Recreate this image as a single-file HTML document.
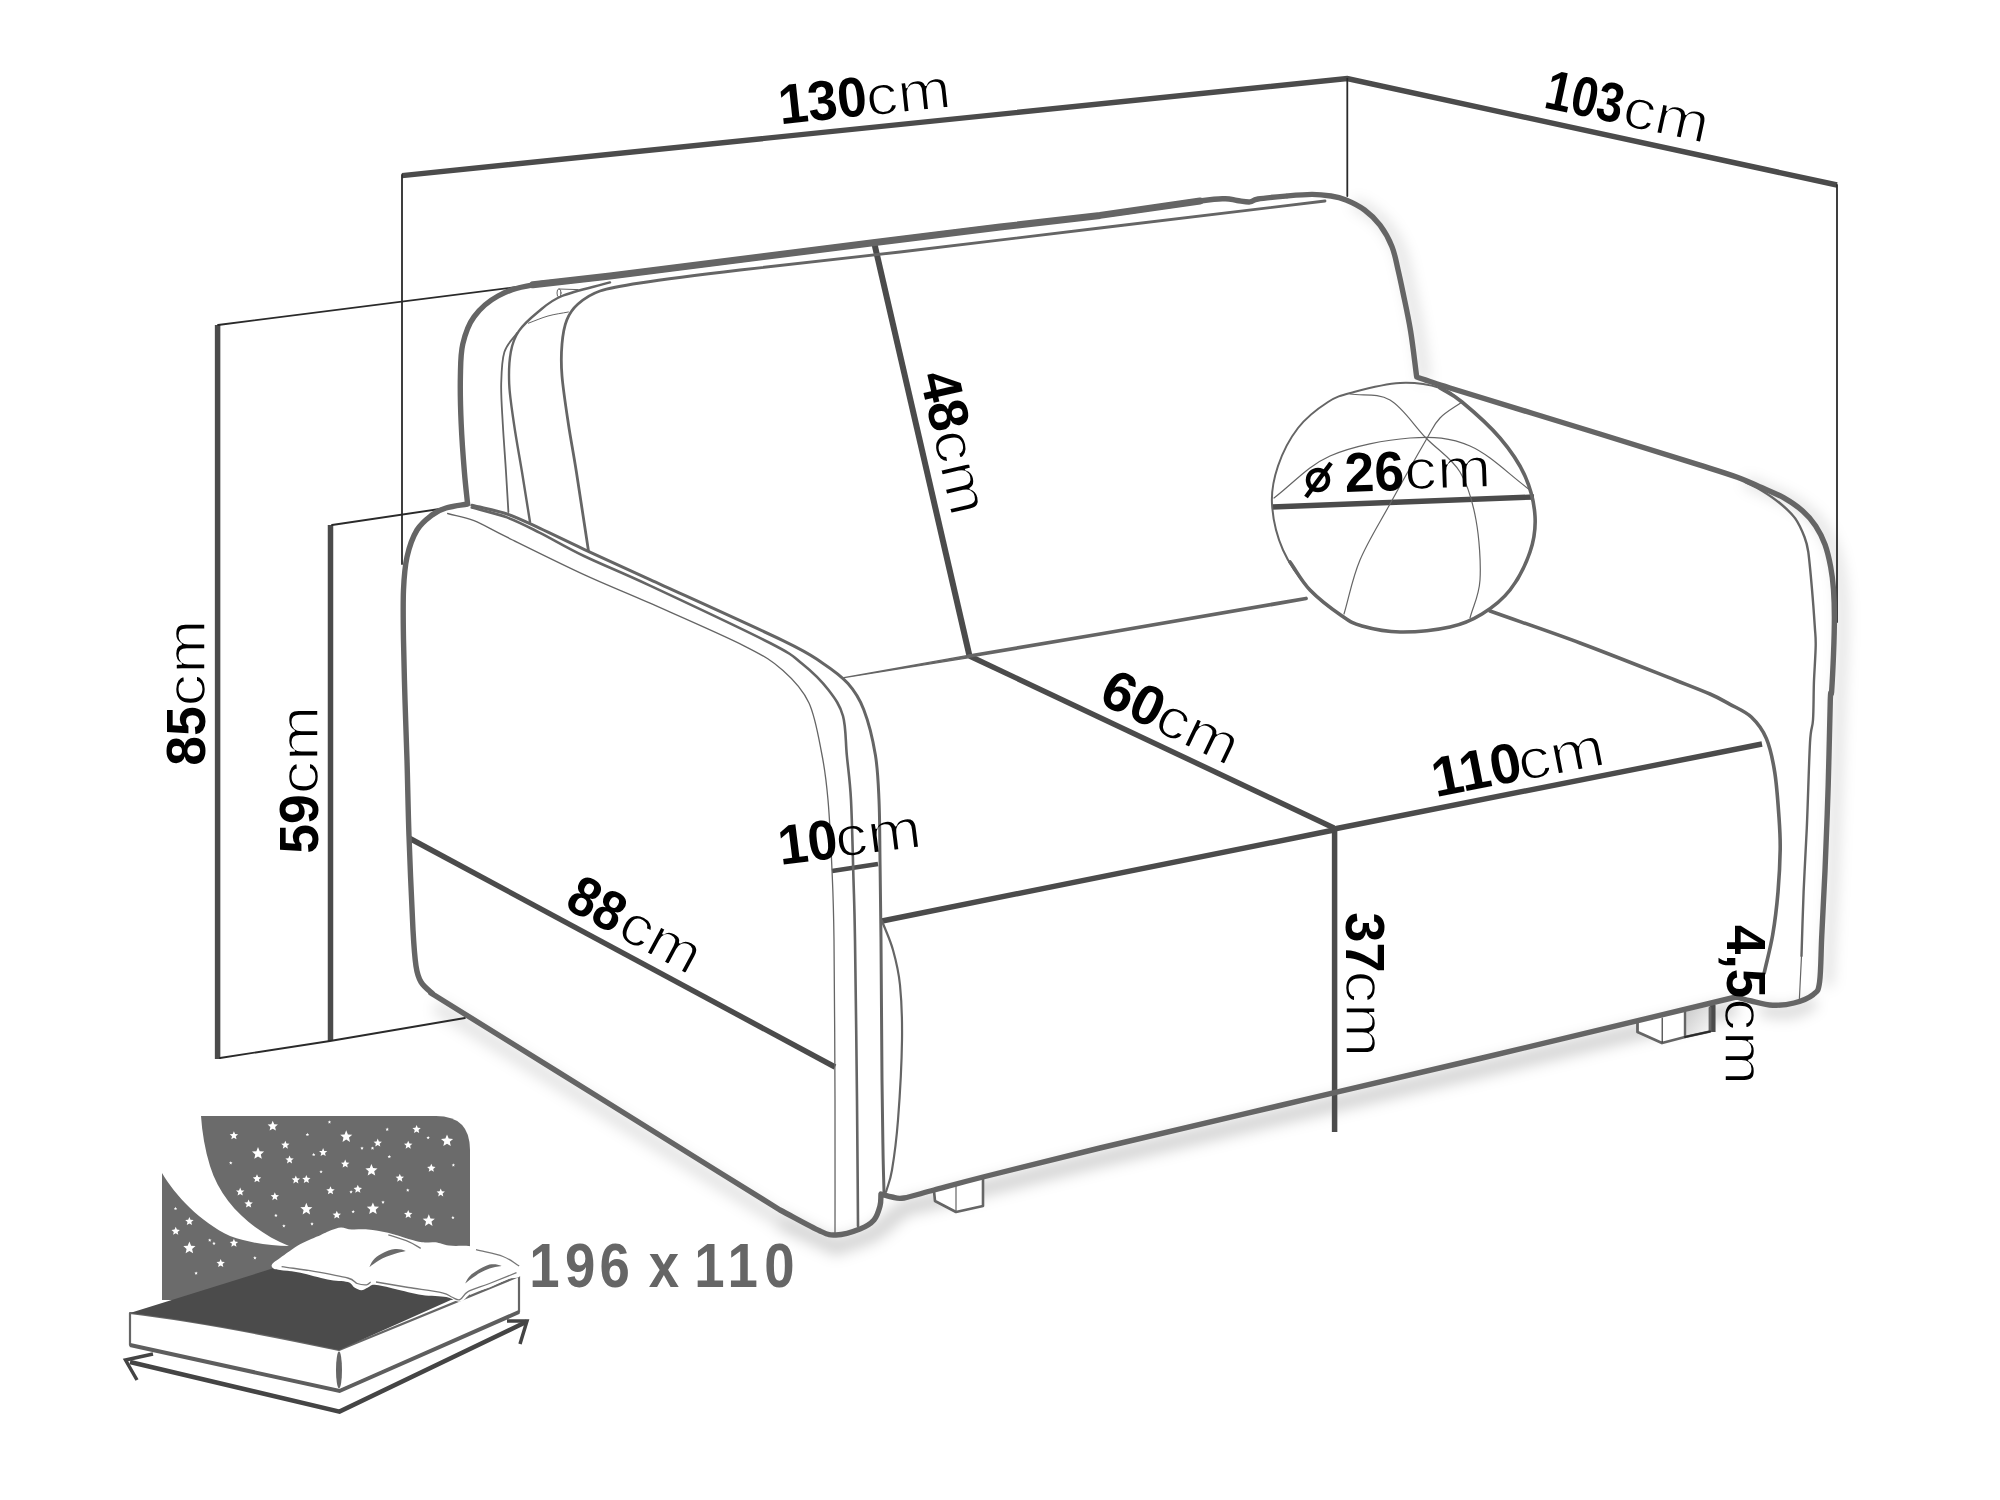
<!DOCTYPE html>
<html><head><meta charset="utf-8"><style>
html,body{margin:0;padding:0;background:#fff;}
svg{display:block;}
text{font-family:"Liberation Sans",sans-serif;}
</style></head><body>
<svg width="2000" height="1500" viewBox="0 0 2000 1500">
<defs><filter id="blur" x="-10%" y="-10%" width="120%" height="120%"><feGaussianBlur stdDeviation="7"/></filter>
<linearGradient id="leggrad" x1="0" y1="0" x2="1" y2="1"><stop offset="0" stop-color="#c8c8c8"/><stop offset="1" stop-color="#fafafa"/></linearGradient>
<filter id="thin" x="-5%" y="-5%" width="110%" height="110%"><feMorphology operator="erode" radius="0.75"/></filter></defs>
<rect width="2000" height="1500" fill="#fff"/>
<g fill="none" filter="url(#blur)"><path d="M436.0,1006.0 L780.0,1220.0" stroke="#000" stroke-opacity="0.11" stroke-width="14"/>
<path d="M780.0,1221.0 L836.0,1247.0 C848.7,1242.3 862.7,1239.3 874.0,1233.0 C885.3,1226.7 894.0,1214.3 904.0,1209.0 C914.0,1203.7 901.3,1209.3 934.0,1201.0 C966.7,1192.7 1042.3,1173.1 1100.0,1159.0 C1157.7,1144.9 1216.7,1131.4 1280.0,1116.5 C1343.3,1101.6 1404.0,1087.6 1480.0,1069.5 C1556.0,1051.4 1650.7,1028.5 1736.0,1008.0" stroke="#000" stroke-opacity="0.17" stroke-width="16"/>
<path d="M1760.0,1010.0 C1770.0,1010.7 1780.8,1013.3 1790.0,1012.0 C1799.2,1010.7 1806.7,1005.3 1815.0,1002.0" stroke="#000" stroke-opacity="0.16" stroke-width="12"/>
<path d="M1354.0,203.0 C1360.2,206.6 1366.9,209.5 1372.6,213.9 C1378.3,218.3 1383.4,223.1 1388.0,229.2 C1392.6,235.3 1397.0,243.3 1400.0,250.7 C1403.0,258.1 1404.2,266.0 1406.0,273.6 C1407.8,281.2 1408.9,286.4 1411.0,296.6 C1413.1,306.8 1416.3,320.9 1418.6,335.0 C1420.9,349.1 1422.7,365.7 1424.7,381.0" stroke="#000" stroke-opacity="0.13" stroke-width="10"/>
<path d="M1745.3,481.3 C1753.4,484.7 1761.8,488.2 1769.6,491.6 C1777.4,495.0 1785.2,498.0 1792.0,501.9 C1798.8,505.8 1805.4,510.3 1810.7,515.0 C1816.0,519.7 1820.0,524.3 1823.7,529.9 C1827.4,535.5 1830.5,541.6 1833.0,548.5 C1835.5,555.4 1837.3,563.5 1838.7,571.0 C1840.1,578.5 1840.9,584.9 1841.5,593.3 C1842.1,601.7 1842.4,610.4 1842.4,621.3 C1842.4,632.2 1842.0,646.2 1841.5,658.7 C1841.0,671.2 1840.5,674.2 1839.6,696.0 C1838.7,717.8 1837.3,759.6 1836.2,789.4 C1835.1,819.2 1834.1,849.9 1833.0,874.8 C1831.9,899.7 1830.7,920.3 1829.8,938.8 C1828.9,957.3 1828.3,970.1 1827.6,985.8" stroke="#000" stroke-opacity="0.13" stroke-width="10"/></g>
<g fill="none" stroke-linecap="round" stroke-linejoin="round">
<path d="M1685,1012 L1685,1037 L1710,1031.5 L1710,1006Z" fill="url(#leggrad)" stroke="none"/>
<path d="M1637.5,1020 L1637.5,1032 L1662,1043 L1685,1037 L1685,1012Z" fill="#fff" stroke="none"/>
<path d="M934,1190 L935,1201 L956,1212 L983,1206 L983,1177Z" fill="#fff" stroke="none"/>
<path d="M402.0,175.6 L1347.2,78.6 L1837.0,185.0" stroke="#4b4b4b" stroke-width="5.4" stroke-linecap="butt" stroke-linejoin="miter"/>
<path d="M217.6,325.0 L217.6,1059.0" stroke="#4b4b4b" stroke-width="5.5" stroke-linecap="butt"/>
<path d="M330.5,525.0 L330.5,1041.0" stroke="#4b4b4b" stroke-width="5.5" stroke-linecap="butt"/>
<path d="M874.0,242.0 L969.5,656.0" stroke="#4b4b4b" stroke-width="6.0" stroke-linecap="butt"/>
<path d="M969.5,656.0 L1334.0,828.0" stroke="#4b4b4b" stroke-width="5.4" stroke-linecap="butt"/>
<path d="M1334.0,829.0 L1762.0,744.0" stroke="#4b4b4b" stroke-width="5.4" stroke-linecap="butt"/>
<path d="M1334.6,828.0 L1334.6,1132.0" stroke="#4b4b4b" stroke-width="5.5" stroke-linecap="butt"/>
<path d="M409.0,838.0 L835.0,1067.0" stroke="#4b4b4b" stroke-width="5.4" stroke-linecap="butt"/>
<path d="M832.0,871.0 L878.0,864.0" stroke="#4b4b4b" stroke-width="4.5" stroke-linecap="butt"/>
<path d="M1272.0,507.0 L1534.0,497.0" stroke="#4b4b4b" stroke-width="5.4" stroke-linecap="butt"/>
<path d="M882.0,921.0 L1334.0,830.0" stroke="#4b4b4b" stroke-width="5.4" stroke-linecap="butt"/>
<path d="M1712.8,1005.0 L1712.8,1032.0" stroke="#4b4b4b" stroke-width="5.5" stroke-linecap="butt"/>
<path d="M402.0,175.0 L402.0,564.0" stroke="#2a2a2a" stroke-width="1.8" />
<path d="M1347.3,78.6 L1347.3,196.0" stroke="#2a2a2a" stroke-width="1.8" />
<path d="M1837.0,185.0 L1837.0,622.0" stroke="#2a2a2a" stroke-width="1.8" />
<path d="M218.0,325.0 L532.0,285.0" stroke="#2a2a2a" stroke-width="1.8" />
<path d="M332.0,525.0 L446.0,508.0" stroke="#2a2a2a" stroke-width="1.8" />
<path d="M220.0,1058.0 L330.0,1041.0 L465.0,1018.0" stroke="#2a2a2a" stroke-width="1.8" />
<path d="M467.6,504.0 C466.5,493.3 465.5,485.3 464.4,472.0 C463.3,458.7 461.9,440.0 461.2,424.0 C460.5,408.0 460.1,389.3 460.4,376.0 C460.7,362.7 460.5,353.9 462.8,344.0 C465.1,334.1 468.1,324.8 474.0,316.8 C479.9,308.8 488.2,301.3 498.0,296.0 C507.8,290.7 514.3,288.1 533.0,284.8 C551.7,281.5 553.0,283.1 610.0,276.0 C667.0,268.9 810.0,250.7 875.0,242.5 C940.0,234.3 962.5,231.5 1000.0,227.0 C1037.5,222.5 1066.7,219.7 1100.0,215.4 C1133.3,211.1 1179.2,203.8 1200.0,201.0 C1220.8,198.2 1218.8,198.8 1225.0,198.7 C1231.2,198.6 1232.8,200.0 1237.0,200.5 C1241.2,201.0 1246.5,202.2 1250.0,201.9 C1253.5,201.7 1251.8,200.0 1258.0,199.0 C1264.2,198.0 1278.0,196.8 1287.0,196.0 C1296.0,195.2 1304.7,194.4 1312.0,194.4 C1319.3,194.4 1325.3,195.1 1331.0,196.0 C1336.7,196.9 1340.4,197.7 1346.0,200.0 C1351.6,202.3 1358.9,205.8 1364.6,210.0 C1370.3,214.2 1375.4,219.1 1380.0,225.2 C1384.6,231.3 1389.0,239.3 1392.0,246.7 C1395.0,254.1 1396.2,262.0 1398.0,269.6 C1399.8,277.2 1400.9,282.4 1403.0,292.6 C1405.1,302.8 1408.3,316.9 1410.6,331.0 C1412.9,345.1 1414.7,361.7 1416.7,377.0 C1427.8,380.7 1419.5,378.5 1450.0,388.0 C1480.5,397.5 1558.3,421.1 1600.0,434.0 C1641.7,446.9 1677.1,458.0 1700.0,465.2 C1722.9,472.4 1727.0,473.6 1737.3,477.3 C1747.6,481.0 1753.8,484.2 1761.6,487.6 C1769.4,491.0 1777.2,494.0 1784.0,497.9 C1790.8,501.8 1797.4,506.3 1802.7,511.0 C1808.0,515.7 1812.0,520.3 1815.7,525.9 C1819.4,531.5 1822.5,537.6 1825.0,544.5 C1827.5,551.4 1829.3,559.5 1830.7,567.0 C1832.1,574.5 1832.9,580.9 1833.5,589.3 C1834.1,597.7 1834.4,606.4 1834.4,617.3 C1834.4,628.2 1834.0,642.2 1833.5,654.7 C1833.0,667.2 1832.1,684.5 1831.6,692.0 C1831.1,699.5 1830.9,684.4 1830.3,700.0 C1829.7,715.6 1829.1,756.9 1828.2,785.4 C1827.3,813.9 1826.1,845.9 1825.0,870.8 C1823.9,895.7 1822.7,916.3 1821.8,934.8 C1820.9,953.3 1821.0,971.8 1819.6,981.8 C1818.2,991.8 1817.5,991.1 1813.2,994.6 C1808.9,998.1 1800.8,1001.2 1794.0,1003.0 C1787.2,1004.8 1779.8,1005.5 1772.7,1005.2 C1765.6,1004.9 1757.4,1002.4 1751.3,1001.0 C1745.2,999.6 1741.1,998.3 1736.0,997.0 C1650.7,1017.5 1556.0,1040.4 1480.0,1058.5 C1404.0,1076.6 1343.3,1090.6 1280.0,1105.5 C1216.7,1120.4 1149.5,1136.1 1100.0,1148.0 C1050.5,1159.9 1010.7,1170.0 983.0,1177.0 C955.3,1184.0 947.2,1186.5 934.0,1190.0 C920.8,1193.5 911.0,1196.8 904.0,1198.0 C897.0,1199.2 895.8,1197.7 892.0,1197.0 C888.2,1196.3 884.7,1195.0 881.0,1194.0 C880.7,1198.0 881.2,1201.7 880.0,1206.0 C878.8,1210.3 877.3,1216.2 874.0,1220.0 C870.7,1223.8 866.3,1226.5 860.0,1229.0 C853.7,1231.5 842.7,1234.7 836.0,1235.0 C829.3,1235.3 829.3,1235.2 820.0,1231.0 C810.7,1226.8 793.3,1217.0 780.0,1210.0 C720.0,1172.7 655.5,1132.5 600.0,1098.0 C544.5,1063.5 475.0,1020.5 447.0,1003.0 C419.0,985.5 436.3,996.5 432.0,993.0 C427.7,989.5 423.7,986.5 421.0,982.0 C418.3,977.5 417.3,974.7 416.0,966.0 C414.7,957.3 414.2,951.7 413.0,930.0 C411.8,908.3 410.0,864.3 409.0,836.0 C408.0,807.7 407.7,782.7 407.0,760.0 C406.3,737.3 405.6,720.0 405.0,700.0 C404.4,680.0 403.8,658.3 403.5,640.0 C403.2,621.7 402.9,603.8 403.5,590.0 C404.1,576.2 404.8,567.0 407.0,557.0 C409.2,547.0 412.8,537.0 417.0,530.0 C421.2,523.0 427.2,518.7 432.0,515.0 C436.8,511.3 440.1,509.8 446.0,508.0 C451.9,506.2 460.4,505.3 467.6,504.0" stroke="#656565" stroke-width="5.4" />
<path d="M533.0,284.8 L610.0,276.0 L875.0,242.5 L1000.0,227.0 L1100.0,215.4 L1200.0,201.0" stroke="#656565" stroke-width="7.0" />
<path d="M934.0,1191.0 L935.0,1201.0 L956.0,1212.0 L983.0,1206.0 L983.0,1178.0" stroke="#656565" stroke-width="2.6" />
<path d="M956.0,1186.0 L956.0,1212.0" stroke="#656565" stroke-width="1.2" />
<path d="M1637.5,1021.0 L1637.5,1032.0 L1662.0,1043.0 L1685.0,1037.0 L1710.0,1031.5 L1710.0,1008.0" stroke="#656565" stroke-width="2.8" />
<path d="M1662.2,1018.0 L1662.2,1042.0" stroke="#2a2a2a" stroke-width="1.1" />
<path d="M1685.0,1011.0 L1685.0,1037.0" stroke="#656565" stroke-width="2.4" />
<path d="M1685.0,1037.0 L1710.0,1031.5" stroke="#2a2a2a" stroke-width="1.8" />
<path d="M471.8,505.3 C483.5,508.2 495.6,510.1 507.0,514.0 C518.4,517.9 527.2,522.5 540.0,528.4 C552.8,534.3 565.7,540.8 584.0,549.3 C602.3,557.8 616.8,564.4 650.0,579.6 C683.2,594.8 754.3,626.8 783.0,640.6 C811.7,654.5 811.2,655.6 822.0,662.7 C832.8,669.9 841.0,675.7 848.0,683.5 C855.0,691.3 859.1,697.6 863.7,709.5 C868.3,721.4 872.9,739.9 875.4,755.0 C877.9,770.1 878.2,782.5 879.0,800.0 C879.8,817.5 879.7,836.7 880.0,860.0 C880.3,883.3 880.7,903.3 881.0,940.0 C881.3,976.7 881.7,1045.0 882.0,1080.0 C882.3,1115.0 882.7,1131.2 883.0,1150.0 C883.3,1168.8 883.7,1178.7 884.0,1193.0" stroke="#656565" stroke-width="3.0" />
<path d="M471.8,507.5 C483.5,510.8 495.6,513.2 507.0,517.4 C518.4,521.6 527.2,526.4 540.0,532.8 C552.8,539.2 565.7,547.2 584.0,556.0 C602.3,564.8 619.0,571.1 650.0,585.6 C681.0,600.1 744.6,629.9 770.0,643.0 C795.4,656.1 792.8,656.2 802.5,664.0 C812.2,671.8 821.8,681.3 828.5,690.0 C835.2,698.7 840.0,705.2 843.0,716.0 C846.0,726.8 845.5,741.0 846.8,755.0 C848.1,769.0 849.9,779.2 851.0,800.0 C852.1,820.8 852.8,856.7 853.5,880.0 C854.2,903.3 854.4,903.3 855.0,940.0 C855.6,976.7 856.5,1052.3 857.0,1100.0 C857.5,1147.7 857.7,1184.0 858.0,1226.0" stroke="#656565" stroke-width="2.6" />
<path d="M447.6,513.5 C456.4,515.9 464.1,516.8 474.0,520.7 C483.9,524.7 488.7,528.2 507.0,537.2 C525.3,546.2 560.2,563.6 584.0,574.6 C607.8,585.6 623.3,591.3 650.0,603.2 C676.7,615.1 721.8,634.6 744.0,645.8 C766.2,657.0 772.2,661.0 783.0,670.5 C793.8,680.0 802.5,688.9 809.0,703.0 C815.5,717.1 818.8,738.8 822.0,755.0 C825.2,771.2 826.3,780.8 828.0,800.0 C829.7,819.2 831.0,846.7 832.0,870.0 C833.0,893.3 833.5,901.7 834.0,940.0 C834.5,978.3 834.8,1051.0 835.0,1100.0 C835.2,1149.0 835.0,1189.3 835.0,1234.0" stroke="#656565" stroke-width="1.3" />
<path d="M882.0,921.0 C885.7,930.7 890.0,939.3 893.0,950.0 C896.0,960.7 898.5,970.0 900.0,985.0 C901.5,1000.0 902.3,1017.5 902.0,1040.0 C901.7,1062.5 899.7,1098.3 898.0,1120.0 C896.3,1141.7 894.0,1158.0 892.0,1170.0 C890.0,1182.0 888.0,1184.7 886.0,1192.0" stroke="#656565" stroke-width="2.2" />
<path d="M610.0,282.4 C594.0,286.9 574.0,291.1 562.0,296.0 C550.0,300.9 545.2,306.1 538.0,312.0 C530.8,317.9 523.3,324.5 518.8,331.2 C514.3,337.9 512.4,343.2 510.8,352.0 C509.2,360.8 508.7,372.0 509.2,384.0 C509.7,396.0 511.9,409.3 514.0,424.0 C516.1,438.7 519.3,455.7 522.0,472.0 C524.7,488.3 527.3,505.3 530.0,522.0" stroke="#656565" stroke-width="2.4" />
<path d="M517.2,332.8 C512.9,339.2 507.1,343.5 504.4,352.0 C501.7,360.5 501.5,372.0 501.2,384.0 C500.9,396.0 502.0,409.3 502.8,424.0 C503.6,438.7 505.1,457.3 506.0,472.0 C506.9,486.7 507.6,498.7 508.4,512.0" stroke="#656565" stroke-width="1.8" />
<path d="M1325.0,201.0 C1250.0,210.0 1170.8,219.5 1100.0,228.0 C1029.2,236.5 960.0,245.0 900.0,252.0 C840.0,259.0 783.3,264.8 740.0,270.0 C696.7,275.2 663.3,279.5 640.0,283.0 C616.7,286.5 610.3,287.5 600.0,291.0 C589.7,294.5 583.5,299.2 578.0,304.0 C572.5,308.8 569.5,313.3 566.8,320.0 C564.1,326.7 562.8,334.7 562.0,344.0 C561.2,353.3 560.9,362.7 562.0,376.0 C563.1,389.3 566.0,408.0 568.4,424.0 C570.8,440.0 573.1,450.9 576.4,472.0 C579.7,493.1 584.4,524.3 588.4,550.4" stroke="#656565" stroke-width="2.8" />
<path d="M528.4,323.2 C534.9,320.8 541.3,317.9 548.0,316.0 C554.7,314.1 561.6,313.3 568.4,312.0" stroke="#656565" stroke-width="1.0" />
<ellipse cx="559" cy="293" rx="2" ry="4.2" stroke="#656565" stroke-width="1"/>
<path d="M559.0,289.0 L578.0,289.6" stroke="#656565" stroke-width="1.0" />
<path d="M844,677.7 L969.5,655.2 L969.5,657.6Z" fill="#656565" stroke="#656565" stroke-width="1.2"/>
<path d="M969.5,656.0 L1100.0,634.0 L1306.0,598.5" stroke="#656565" stroke-width="3.8" />
<path d="M1490.0,611.0 C1520.0,621.7 1549.2,631.5 1580.0,643.0 C1610.8,654.5 1653.3,671.5 1675.0,680.0 C1696.7,688.5 1700.8,690.0 1710.0,694.0 C1719.2,698.0 1723.1,700.5 1730.0,704.3 C1736.9,708.1 1745.2,711.3 1751.3,717.0 C1757.3,722.7 1762.4,729.1 1766.3,738.4 C1770.2,747.7 1772.7,759.4 1774.8,772.6 C1776.9,785.8 1778.1,804.6 1779.0,817.4 C1779.9,830.2 1780.4,837.0 1780.2,849.4 C1780.0,861.8 1779.2,877.8 1778.0,892.0 C1776.8,906.2 1775.0,921.3 1772.7,934.8 C1770.4,948.3 1767.0,960.3 1764.2,973.0" stroke="#656565" stroke-width="3.6" />
<path d="M1745.0,482.0 C1750.5,484.8 1755.7,486.8 1761.6,490.4 C1767.5,494.0 1774.7,498.8 1780.3,503.5 C1785.9,508.2 1791.2,512.8 1795.2,518.4 C1799.2,524.0 1802.3,531.4 1804.5,537.0 C1806.7,542.6 1807.0,543.3 1808.3,552.0 C1809.5,560.7 1810.9,576.8 1812.0,589.3 C1813.1,601.8 1814.2,617.4 1814.8,626.7 C1815.4,636.0 1815.8,636.0 1815.7,645.3 C1815.6,654.6 1814.4,670.2 1813.9,682.7 C1813.5,695.2 1813.7,710.0 1813.0,720.0 C1812.3,730.0 1811.0,724.7 1810.0,742.7 C1809.0,760.7 1807.9,803.1 1806.8,828.0 C1805.7,852.9 1804.5,870.7 1803.6,892.0 C1802.7,913.3 1802.2,934.7 1801.5,956.0" stroke="#656565" stroke-width="2.4" />
<path d="M1801.5,956.0 L1799.4,998.8" stroke="#656565" stroke-width="1.2" />
<path d="M1272.0,504.0 C1271.2,490.0 1273.7,478.7 1278.0,466.0 C1282.3,453.3 1289.7,438.7 1298.0,428.0 C1306.3,417.3 1318.7,408.0 1328.0,402.0 C1337.3,396.0 1342.0,395.2 1354.0,392.0 C1366.0,388.8 1385.7,383.7 1400.0,383.0 C1414.3,382.3 1429.7,384.8 1440.0,388.0 C1450.3,391.2 1452.0,393.7 1462.0,402.0 C1472.0,410.3 1489.5,425.7 1500.0,438.0 C1510.5,450.3 1519.2,463.0 1525.0,476.0 C1530.8,489.0 1534.2,503.3 1535.0,516.0 C1535.8,528.7 1534.2,539.7 1530.0,552.0 C1525.8,564.3 1518.0,579.7 1510.0,590.0 C1502.0,600.3 1492.0,607.8 1482.0,614.0 C1472.0,620.2 1463.7,624.0 1450.0,627.0 C1436.3,630.0 1414.7,632.2 1400.0,632.0 C1385.3,631.8 1371.7,628.7 1362.0,626.0 C1352.3,623.3 1350.7,622.0 1342.0,616.0 C1333.3,610.0 1319.8,601.0 1310.0,590.0 C1300.2,579.0 1289.3,564.3 1283.0,550.0 C1276.7,535.7 1272.8,518.0 1272.0,504.0Z" stroke="#656565" stroke-width="2.0" />
<path d="M1440.0,388.0 C1447.3,392.7 1452.0,393.7 1462.0,402.0 C1472.0,410.3 1489.5,425.7 1500.0,438.0 C1510.5,450.3 1519.2,463.0 1525.0,476.0 C1530.8,489.0 1534.2,503.3 1535.0,516.0 C1535.8,528.7 1534.2,539.7 1530.0,552.0 C1525.8,564.3 1518.0,579.7 1510.0,590.0 C1502.0,600.3 1492.0,607.8 1482.0,614.0 C1472.0,620.2 1463.7,624.0 1450.0,627.0 C1436.3,630.0 1414.7,632.2 1400.0,632.0 C1385.3,631.8 1371.7,628.7 1362.0,626.0 C1352.3,623.3 1350.7,622.0 1342.0,616.0 C1333.3,610.0 1318.7,599.0 1310.0,590.0 C1301.3,581.0 1296.7,571.3 1290.0,562.0" stroke="#656565" stroke-width="3.6" />
<path d="M1274.0,498.0 C1292.7,484.0 1307.3,466.0 1330.0,456.0 C1352.7,446.0 1386.7,439.7 1410.0,438.0 C1433.3,436.3 1450.0,437.3 1470.0,446.0 C1490.0,454.7 1510.0,475.3 1530.0,490.0" stroke="#656565" stroke-width="1.2" />
<path d="M1350.0,394.0 C1363.3,396.0 1377.3,392.7 1390.0,400.0 C1402.7,407.3 1414.3,426.0 1426.0,438.0 C1437.7,450.0 1451.7,458.3 1460.0,472.0 C1468.3,485.7 1472.7,502.0 1476.0,520.0 C1479.3,538.0 1481.0,563.7 1480.0,580.0 C1479.0,596.3 1473.3,605.3 1470.0,618.0" stroke="#656565" stroke-width="1.2" />
<path d="M1462.0,402.0 C1454.7,407.3 1446.0,411.7 1440.0,418.0 C1434.0,424.3 1434.3,425.7 1426.0,440.0 C1417.7,454.3 1401.0,484.0 1390.0,504.0 C1379.0,524.0 1367.7,541.7 1360.0,560.0 C1352.3,578.3 1349.3,596.0 1344.0,614.0" stroke="#656565" stroke-width="1.2" />
</g>
<g><path d="M162,1116 L436,1116 Q470,1116 470,1150 L470,1300 L162,1300Z" fill="#6b6b6b"/>
<path d="M150,1108 L201,1116 C202,1132 205,1150 210,1166 C222,1205 255,1232 289,1246 C270,1246 250,1243 230,1236 C200,1222 175,1195 162,1173 L150,1173Z" fill="#fff"/>
<path d="M130,1313 C180,1319 250,1331 339,1350 L519,1276 L519,1312 L339,1391 L130,1345Z" fill="#fff" stroke="#666" stroke-width="2.2" stroke-linejoin="round"/>
<path d="M130,1345 L339.5,1391 L519,1312" fill="none" stroke="#5e5e5e" stroke-width="4"/>
<path d="M130,1313 L274,1268 L500,1278 L339,1350 C250,1331 180,1319 130,1313Z" fill="#4b4b4b"/>
<ellipse cx="339" cy="1370" rx="3" ry="18.5" fill="#666"/>
<path d="M272.0,1264.5 C273.1,1262.7 275.2,1261.4 280.0,1258.0 C284.8,1254.6 293.7,1247.8 300.5,1244.0 C307.3,1240.2 315.6,1237.2 320.8,1234.9 C326.0,1232.6 328.2,1231.2 331.6,1230.0 C335.0,1228.8 337.6,1227.5 341.0,1227.4 C344.4,1227.3 347.3,1229.2 351.8,1229.5 C356.3,1229.8 362.0,1229.0 368.0,1229.5 C374.0,1230.0 381.2,1231.2 388.0,1232.8 C394.8,1234.4 402.8,1237.4 408.5,1239.0 C414.2,1240.6 417.5,1241.8 422.0,1242.3 C426.5,1242.8 431.0,1241.8 435.5,1242.3 C440.0,1242.8 443.1,1244.9 449.0,1245.6 C454.9,1246.3 463.9,1245.4 470.6,1246.3 C477.4,1247.2 483.0,1248.9 489.5,1251.0 C496.0,1253.1 504.6,1256.8 509.8,1259.0 C515.0,1261.2 518.6,1262.5 520.6,1264.5 C522.6,1266.5 522.3,1269.2 522.0,1271.3 C521.7,1273.4 521.5,1275.7 519.0,1277.0 C516.5,1278.3 511.9,1277.7 507.0,1279.4 C502.1,1281.2 495.3,1285.2 489.5,1287.5 C483.7,1289.8 476.5,1290.8 472.0,1293.0 C467.5,1295.2 465.2,1299.7 462.5,1301.0 C459.8,1302.3 458.5,1301.7 455.8,1301.0 C453.1,1300.3 451.9,1298.0 446.3,1297.0 C440.7,1296.0 430.6,1296.3 422.0,1295.0 C413.4,1293.7 402.9,1290.6 395.0,1288.9 C387.1,1287.2 379.3,1285.0 374.8,1284.8 C370.3,1284.6 370.2,1286.6 368.0,1287.5 C365.8,1288.4 363.6,1290.2 361.3,1290.2 C359.1,1290.2 356.8,1288.9 354.5,1287.5 C352.2,1286.1 352.3,1283.3 347.8,1282.0 C343.3,1280.7 335.4,1281.0 327.5,1279.4 C319.6,1277.9 308.4,1274.3 300.5,1272.7 C292.6,1271.1 284.5,1270.7 280.0,1270.0 C275.5,1269.3 274.8,1269.5 273.5,1268.6 C272.2,1267.7 270.9,1266.3 272.0,1264.5Z" fill="#fff"/>
<path d="M281.6,1266.6 C292.4,1268.2 303.0,1269.4 314.0,1271.3 C325.0,1273.2 340.6,1276.0 347.8,1278.0 C355.0,1280.0 354.1,1282.4 357.2,1283.5 C360.3,1284.6 364.4,1285.0 366.7,1284.8 C368.9,1284.5 369.4,1282.9 370.7,1282.0" fill="none" stroke="#777" stroke-width="1.3"/>
<path d="M376.0,1282.0 C386.8,1283.8 397.4,1285.7 408.5,1287.5 C419.6,1289.3 435.1,1291.3 442.3,1292.9 C449.5,1294.5 448.8,1295.9 451.7,1297.0 C454.6,1298.1 457.1,1300.6 459.8,1299.7 C462.5,1298.8 463.1,1294.3 468.0,1291.6 C472.9,1288.9 481.4,1286.7 489.5,1283.5 C497.6,1280.3 507.5,1276.3 516.5,1272.7" fill="none" stroke="#777" stroke-width="1.3"/>
<path d="M388.3,1234.9 C395.0,1237.1 403.1,1239.3 408.5,1241.6 C413.9,1243.8 416.6,1246.1 420.7,1248.4" fill="none" stroke="#777" stroke-width="1.3"/>
<path d="M476.0,1249.7 C485.0,1252.0 495.8,1253.8 503.0,1256.5 C510.2,1259.2 513.8,1262.8 519.2,1266.0" fill="none" stroke="#777" stroke-width="1.3"/>
<path d="M369.4,1267.3 C372,1260 377,1256 381.5,1253.8 C386,1251 391,1249.5 395,1249 C399,1248.6 403,1249.5 405.8,1251 C402,1252 398,1252.6 395,1253.8 C389,1255.5 383,1258 378.8,1260.5 C375,1263 372,1265 369.4,1267.3Z" fill="#6b6b6b"/>
<path d="M465.2,1283.5 C468,1277 472,1273.5 476,1271.3 C481,1268 485,1266 489.5,1264.5 C494,1263.8 498,1264.3 501.7,1265.9 C497,1266.6 493,1267.3 489.5,1268.6 C484,1270.5 480,1272.5 476,1275.4 C471,1278.5 468,1281 465.2,1283.5Z" fill="#6b6b6b"/>
<path d="M130,1362 L339.5,1411.6 L527,1321.5" fill="none" stroke="#444" stroke-width="4.5"/>
<path d="M153,1354 L125.5,1360 L137,1380" fill="none" stroke="#444" stroke-width="3.5"/>
<path d="M507,1321 L527,1321 L520,1344" fill="none" stroke="#444" stroke-width="3.5"/>
<polygon points="272.7,1120.8 274.2,1124.3 277.9,1124.6 275.1,1127.0 275.9,1130.6 272.7,1128.7 269.6,1130.6 270.4,1127.0 267.6,1124.6 271.3,1124.3" fill="#fff"/>
<polygon points="233.9,1131.3 235.1,1134.1 238.1,1134.3 235.8,1136.3 236.5,1139.3 233.9,1137.7 231.3,1139.3 232.0,1136.3 229.7,1134.3 232.7,1134.1" fill="#fff"/>
<polygon points="346.2,1130.3 347.9,1134.4 352.3,1134.8 349.0,1137.6 350.0,1141.9 346.2,1139.6 342.5,1141.9 343.5,1137.6 340.2,1134.8 344.6,1134.4" fill="#fff"/>
<polygon points="329.4,1120.2 329.9,1121.4 331.2,1121.5 330.2,1122.3 330.5,1123.5 329.4,1122.9 328.4,1123.5 328.7,1122.3 327.7,1121.5 329.0,1121.4" fill="#fff"/>
<polygon points="416.6,1125.0 417.8,1127.8 420.8,1128.0 418.5,1130.0 419.2,1133.0 416.6,1131.4 414.0,1133.0 414.7,1130.0 412.4,1128.0 415.4,1127.8" fill="#fff"/>
<polygon points="447.0,1134.5 448.7,1138.6 453.1,1139.0 449.8,1141.8 450.8,1146.1 447.0,1143.8 443.3,1146.1 444.3,1141.8 441.0,1139.0 445.4,1138.6" fill="#fff"/>
<polygon points="387.2,1127.6 387.7,1128.7 388.9,1128.8 388.0,1129.6 388.3,1130.9 387.2,1130.2 386.1,1130.9 386.4,1129.6 385.5,1128.8 386.7,1128.7" fill="#fff"/>
<polygon points="377.7,1138.6 378.9,1141.4 381.9,1141.7 379.6,1143.7 380.3,1146.6 377.7,1145.0 375.2,1146.6 375.9,1143.7 373.6,1141.7 376.6,1141.4" fill="#fff"/>
<polygon points="408.2,1140.7 409.4,1143.5 412.4,1143.8 410.1,1145.8 410.8,1148.7 408.2,1147.1 405.6,1148.7 406.3,1145.8 404.0,1143.8 407.0,1143.5" fill="#fff"/>
<polygon points="428.1,1136.0 428.6,1137.1 429.9,1137.2 428.9,1138.0 429.2,1139.3 428.1,1138.6 427.1,1139.3 427.4,1138.0 426.4,1137.2 427.7,1137.1" fill="#fff"/>
<polygon points="285.3,1140.7 286.5,1143.5 289.5,1143.8 287.2,1145.8 287.9,1148.7 285.3,1147.1 282.8,1148.7 283.5,1145.8 281.2,1143.8 284.2,1143.5" fill="#fff"/>
<polygon points="258.0,1147.1 259.7,1151.2 264.1,1151.6 260.8,1154.4 261.8,1158.7 258.0,1156.4 254.3,1158.7 255.3,1154.4 252.0,1151.6 256.4,1151.2" fill="#fff"/>
<polygon points="307.4,1132.8 307.9,1134.0 309.1,1134.1 308.2,1134.9 308.5,1136.1 307.4,1135.5 306.3,1136.1 306.6,1134.9 305.7,1134.1 306.9,1134.0" fill="#fff"/>
<polygon points="323.1,1148.1 324.3,1150.9 327.3,1151.1 325.0,1153.1 325.7,1156.1 323.1,1154.5 320.6,1156.1 321.3,1153.1 319.0,1151.1 322.0,1150.9" fill="#fff"/>
<polygon points="313.7,1152.8 314.2,1153.9 315.4,1154.0 314.5,1154.8 314.8,1156.1 313.7,1155.4 312.6,1156.1 312.9,1154.8 312.0,1154.0 313.2,1153.9" fill="#fff"/>
<polygon points="289.5,1155.4 290.7,1158.2 293.7,1158.5 291.4,1160.5 292.1,1163.4 289.5,1161.8 287.0,1163.4 287.7,1160.5 285.4,1158.5 288.4,1158.2" fill="#fff"/>
<polygon points="362.0,1146.5 362.5,1147.6 363.7,1147.7 362.8,1148.5 363.1,1149.8 362.0,1149.1 360.9,1149.8 361.2,1148.5 360.3,1147.7 361.5,1147.6" fill="#fff"/>
<polygon points="372.5,1146.5 373.0,1147.6 374.2,1147.7 373.3,1148.5 373.6,1149.8 372.5,1149.1 371.4,1149.8 371.7,1148.5 370.8,1147.7 372.0,1147.6" fill="#fff"/>
<polygon points="389.3,1154.9 389.8,1156.0 391.0,1156.1 390.1,1156.9 390.4,1158.2 389.3,1157.5 388.2,1158.2 388.5,1156.9 387.6,1156.1 388.8,1156.0" fill="#fff"/>
<polygon points="230.7,1161.2 231.2,1162.3 232.5,1162.4 231.5,1163.2 231.8,1164.5 230.7,1163.8 229.7,1164.5 230.0,1163.2 229.0,1162.4 230.3,1162.3" fill="#fff"/>
<polygon points="345.2,1159.6 346.4,1162.4 349.4,1162.7 347.1,1164.7 347.8,1167.6 345.2,1166.0 342.6,1167.6 343.3,1164.7 341.0,1162.7 344.0,1162.4" fill="#fff"/>
<polygon points="371.4,1163.9 373.1,1168.0 377.5,1168.4 374.2,1171.2 375.2,1175.5 371.4,1173.2 367.7,1175.5 368.7,1171.2 365.4,1168.4 369.8,1168.0" fill="#fff"/>
<polygon points="431.3,1163.8 432.5,1166.6 435.5,1166.9 433.2,1168.9 433.9,1171.8 431.3,1170.2 428.7,1171.8 429.4,1168.9 427.1,1166.9 430.1,1166.6" fill="#fff"/>
<polygon points="453.3,1163.3 453.8,1164.4 455.1,1164.5 454.1,1165.3 454.4,1166.6 453.3,1165.9 452.3,1166.6 452.6,1165.3 451.6,1164.5 452.9,1164.4" fill="#fff"/>
<polygon points="257.0,1174.3 258.2,1177.1 261.2,1177.4 258.9,1179.4 259.6,1182.3 257.0,1180.7 254.4,1182.3 255.1,1179.4 252.8,1177.4 255.8,1177.1" fill="#fff"/>
<polygon points="295.8,1175.4 297.0,1178.2 300.0,1178.4 297.7,1180.4 298.4,1183.4 295.8,1181.8 293.3,1183.4 294.0,1180.4 291.7,1178.4 294.7,1178.2" fill="#fff"/>
<polygon points="306.3,1175.0 307.5,1177.8 310.5,1178.0 308.2,1180.0 308.9,1182.9 306.3,1181.4 303.8,1182.9 304.5,1180.0 302.2,1178.0 305.2,1177.8" fill="#fff"/>
<polygon points="321.0,1170.0 321.5,1171.2 322.8,1171.3 321.8,1172.1 322.1,1173.3 321.0,1172.6 320.0,1173.3 320.3,1172.1 319.3,1171.3 320.6,1171.2" fill="#fff"/>
<polygon points="399.8,1173.7 401.0,1176.5 404.0,1176.8 401.7,1178.7 402.4,1181.7 399.8,1180.1 397.2,1181.7 397.9,1178.7 395.6,1176.8 398.6,1176.5" fill="#fff"/>
<polygon points="240.2,1187.6 241.4,1190.4 244.4,1190.6 242.1,1192.6 242.8,1195.5 240.2,1194.0 237.6,1195.5 238.3,1192.6 236.0,1190.6 239.0,1190.4" fill="#fff"/>
<polygon points="274.8,1192.2 276.0,1195.0 279.0,1195.2 276.7,1197.2 277.4,1200.2 274.8,1198.6 272.3,1200.2 273.0,1197.2 270.7,1195.2 273.7,1195.0" fill="#fff"/>
<polygon points="330.5,1186.3 331.7,1189.1 334.7,1189.4 332.4,1191.3 333.1,1194.3 330.5,1192.7 327.9,1194.3 328.6,1191.3 326.3,1189.4 329.3,1189.1" fill="#fff"/>
<polygon points="357.8,1184.8 359.0,1187.6 362.0,1187.9 359.7,1189.9 360.4,1192.8 357.8,1191.2 355.2,1192.8 355.9,1189.9 353.6,1187.9 356.6,1187.6" fill="#fff"/>
<polygon points="351.1,1190.2 351.6,1191.3 352.8,1191.4 351.8,1192.2 352.1,1193.4 351.1,1192.8 350.0,1193.4 350.3,1192.2 349.4,1191.4 350.6,1191.3" fill="#fff"/>
<polygon points="407.8,1188.5 408.3,1189.6 409.5,1189.7 408.5,1190.5 408.8,1191.8 407.8,1191.1 406.7,1191.8 407.0,1190.5 406.1,1189.7 407.3,1189.6" fill="#fff"/>
<polygon points="440.7,1188.4 441.9,1191.2 444.9,1191.5 442.6,1193.4 443.3,1196.4 440.7,1194.8 438.2,1196.4 438.9,1193.4 436.6,1191.5 439.6,1191.2" fill="#fff"/>
<polygon points="248.6,1199.5 249.8,1202.3 252.8,1202.6 250.5,1204.6 251.2,1207.5 248.6,1205.9 246.0,1207.5 246.7,1204.6 244.4,1202.6 247.4,1202.3" fill="#fff"/>
<polygon points="306.3,1202.8 308.0,1206.9 312.4,1207.2 309.1,1210.1 310.1,1214.4 306.3,1212.1 302.6,1214.4 303.6,1210.1 300.3,1207.2 304.7,1206.9" fill="#fff"/>
<polygon points="372.9,1202.4 374.6,1206.4 379.0,1206.8 375.7,1209.7 376.7,1214.0 372.9,1211.7 369.2,1214.0 370.2,1209.7 366.8,1206.8 371.2,1206.4" fill="#fff"/>
<polygon points="383.0,1200.5 383.5,1201.6 384.7,1201.7 383.8,1202.5 384.1,1203.7 383.0,1203.1 381.9,1203.7 382.2,1202.5 381.3,1201.7 382.5,1201.6" fill="#fff"/>
<polygon points="336.8,1210.7 338.0,1213.5 341.0,1213.7 338.7,1215.7 339.4,1218.6 336.8,1217.1 334.2,1218.6 334.9,1215.7 332.6,1213.7 335.6,1213.5" fill="#fff"/>
<polygon points="275.9,1213.7 276.4,1214.8 277.6,1214.9 276.7,1215.7 277.0,1217.0 275.9,1216.3 274.8,1217.0 275.1,1215.7 274.2,1214.9 275.4,1214.8" fill="#fff"/>
<polygon points="353.2,1209.9 353.7,1211.1 354.9,1211.2 353.9,1212.0 354.2,1213.2 353.2,1212.5 352.1,1213.2 352.4,1212.0 351.5,1211.2 352.7,1211.1" fill="#fff"/>
<polygon points="408.2,1210.0 409.4,1212.8 412.4,1213.1 410.1,1215.1 410.8,1218.0 408.2,1216.4 405.6,1218.0 406.3,1215.1 404.0,1213.1 407.0,1212.8" fill="#fff"/>
<polygon points="428.8,1214.3 430.5,1218.4 434.9,1218.8 431.5,1221.6 432.5,1225.9 428.8,1223.6 425.0,1225.9 426.0,1221.6 422.7,1218.8 427.1,1218.4" fill="#fff"/>
<polygon points="452.9,1215.8 453.4,1216.9 454.6,1217.0 453.7,1217.8 454.0,1219.1 452.9,1218.4 451.9,1219.1 452.2,1217.8 451.2,1217.0 452.4,1216.9" fill="#fff"/>
<polygon points="283.9,1224.2 284.4,1225.3 285.6,1225.4 284.6,1226.2 284.9,1227.5 283.9,1226.8 282.8,1227.5 283.1,1226.2 282.2,1225.4 283.4,1225.3" fill="#fff"/>
<polygon points="312.0,1222.1 312.5,1223.2 313.7,1223.3 312.8,1224.1 313.1,1225.4 312.0,1224.7 311.0,1225.4 311.2,1224.1 310.3,1223.3 311.5,1223.2" fill="#fff"/>
<polygon points="175.5,1206.8 176.0,1207.9 177.2,1208.0 176.3,1208.8 176.6,1210.0 175.5,1209.4 174.5,1210.0 174.7,1208.8 173.8,1208.0 175.0,1207.9" fill="#fff"/>
<polygon points="189.4,1217.0 190.5,1219.8 193.6,1220.0 191.3,1222.0 192.0,1224.9 189.4,1223.4 186.8,1224.9 187.5,1222.0 185.2,1220.0 188.2,1219.8" fill="#fff"/>
<polygon points="175.7,1226.8 176.9,1229.6 179.9,1229.9 177.6,1231.9 178.3,1234.8 175.7,1233.2 173.1,1234.8 173.8,1231.9 171.5,1229.9 174.6,1229.6" fill="#fff"/>
<polygon points="209.7,1238.5 210.2,1239.6 211.5,1239.7 210.5,1240.5 210.8,1241.7 209.7,1241.1 208.7,1241.7 209.0,1240.5 208.0,1239.7 209.3,1239.6" fill="#fff"/>
<polygon points="213.9,1241.6 214.4,1242.8 215.7,1242.9 214.7,1243.7 215.0,1244.9 213.9,1244.2 212.9,1244.9 213.2,1243.7 212.2,1242.9 213.5,1242.8" fill="#fff"/>
<polygon points="233.9,1238.8 235.1,1241.6 238.1,1241.9 235.8,1243.8 236.5,1246.8 233.9,1245.2 231.3,1246.8 232.0,1243.8 229.7,1241.9 232.7,1241.6" fill="#fff"/>
<polygon points="189.4,1241.6 191.1,1245.7 195.5,1246.1 192.1,1248.9 193.1,1253.2 189.4,1250.9 185.6,1253.2 186.6,1248.9 183.3,1246.1 187.7,1245.7" fill="#fff"/>
<polygon points="254.9,1256.1 255.4,1257.3 256.6,1257.4 255.7,1258.2 256.0,1259.4 254.9,1258.7 253.8,1259.4 254.1,1258.2 253.2,1257.4 254.4,1257.3" fill="#fff"/>
<polygon points="220.7,1259.0 221.8,1261.8 224.9,1262.0 222.6,1264.0 223.3,1266.9 220.7,1265.4 218.1,1266.9 218.8,1264.0 216.5,1262.0 219.5,1261.8" fill="#fff"/>
<polygon points="196.1,1271.4 196.6,1272.6 197.8,1272.7 196.9,1273.5 197.2,1274.7 196.1,1274.1 195.0,1274.7 195.3,1273.5 194.4,1272.7 195.6,1272.6" fill="#fff"/>
<text transform="translate(0 1286.6) scale(0.86 1)" x="615.53 656.95 697.09 726.08 754.45 793.52 807.27 845.99 888.78" y="0" font-weight="bold" fill="#666" font-size="63.5">196 x 110</text></g>
<g font-size="56" fill="#000">
<g transform="translate(780.38 124.35) rotate(-6.20)"><text x="0" y="0" font-size="56.00" font-weight="bold" textLength="88.66" lengthAdjust="spacingAndGlyphs">130</text><mask id="m_130" maskUnits="userSpaceOnUse" x="-100" y="-120" width="400" height="240"><text x="87.75" y="1.46" font-size="56.00" textLength="85.41" lengthAdjust="spacingAndGlyphs" fill="#fff" stroke="#000" stroke-width="1.6">cm</text></mask><text x="87.75" y="1.46" font-size="56.00" textLength="85.41" lengthAdjust="spacingAndGlyphs" mask="url(#m_130)">cm</text></g>
<g transform="translate(1542.50 107.14) rotate(12.20)"><text x="0" y="0" font-size="56.00" font-weight="bold" textLength="78.75" lengthAdjust="spacingAndGlyphs">103</text><mask id="m_103" maskUnits="userSpaceOnUse" x="-100" y="-120" width="400" height="240"><text x="79.85" y="1.19" font-size="56.00" textLength="86.65" lengthAdjust="spacingAndGlyphs" fill="#fff" stroke="#000" stroke-width="1.6">cm</text></mask><text x="79.85" y="1.19" font-size="56.00" textLength="86.65" lengthAdjust="spacingAndGlyphs" mask="url(#m_103)">cm</text></g>
<g transform="translate(919.50 375.67) rotate(77.00)"><text x="0" y="0" font-size="56.00" font-weight="bold" textLength="59.80" lengthAdjust="spacingAndGlyphs">48</text><mask id="m_48" maskUnits="userSpaceOnUse" x="-100" y="-120" width="400" height="240"><text x="59.76" y="0.37" font-size="56.00" textLength="86.15" lengthAdjust="spacingAndGlyphs" fill="#fff" stroke="#000" stroke-width="1.6">cm</text></mask><text x="59.76" y="0.37" font-size="56.00" textLength="86.15" lengthAdjust="spacingAndGlyphs" mask="url(#m_48)">cm</text></g>
<g transform="translate(205.15 765.80) rotate(-90.00)"><text x="0" y="0" font-size="56.00" font-weight="bold" textLength="59.50" lengthAdjust="spacingAndGlyphs">85</text><mask id="m_85" maskUnits="userSpaceOnUse" x="-100" y="-120" width="400" height="240"><text x="59.39" y="0.12" font-size="56.00" textLength="86.90" lengthAdjust="spacingAndGlyphs" fill="#fff" stroke="#000" stroke-width="1.6">cm</text></mask><text x="59.39" y="0.12" font-size="56.00" textLength="86.90" lengthAdjust="spacingAndGlyphs" mask="url(#m_85)">cm</text></g>
<g transform="translate(317.65 853.70) rotate(-90.00)"><text x="0" y="0" font-size="56.00" font-weight="bold" textLength="59.50" lengthAdjust="spacingAndGlyphs">59</text><mask id="m_59" maskUnits="userSpaceOnUse" x="-100" y="-120" width="400" height="240"><text x="59.39" y="-0.04" font-size="56.00" textLength="88.70" lengthAdjust="spacingAndGlyphs" fill="#fff" stroke="#000" stroke-width="1.6">cm</text></mask><text x="59.39" y="-0.04" font-size="56.00" textLength="88.70" lengthAdjust="spacingAndGlyphs" mask="url(#m_59)">cm</text></g>
<g transform="translate(1346.45 912.20) rotate(90.00)"><text x="0" y="0" font-size="56.00" font-weight="bold" textLength="60.50" lengthAdjust="spacingAndGlyphs">37</text><mask id="m_37" maskUnits="userSpaceOnUse" x="-100" y="-120" width="400" height="240"><text x="58.25" y="0.12" font-size="56.00" textLength="87.00" lengthAdjust="spacingAndGlyphs" fill="#fff" stroke="#000" stroke-width="1.6">cm</text></mask><text x="58.25" y="0.12" font-size="56.00" textLength="87.00" lengthAdjust="spacingAndGlyphs" mask="url(#m_37)">cm</text></g>
<g transform="translate(1726.80 925.10) rotate(90.00)"><text x="0" y="0" font-size="56.00" font-weight="bold" textLength="72.90" lengthAdjust="spacingAndGlyphs">4,5</text><mask id="m_4_5" maskUnits="userSpaceOnUse" x="-100" y="-120" width="400" height="240"><text x="72.97" y="2.24" font-size="56.00" textLength="87.20" lengthAdjust="spacingAndGlyphs" fill="#fff" stroke="#000" stroke-width="1.6">cm</text></mask><text x="72.97" y="2.24" font-size="56.00" textLength="87.20" lengthAdjust="spacingAndGlyphs" mask="url(#m_4_5)">cm</text></g>
<g transform="translate(563.31 907.37) rotate(28.30)"><text x="0" y="0" font-size="56.00" font-weight="bold" textLength="56.55" lengthAdjust="spacingAndGlyphs">88</text><mask id="m_88" maskUnits="userSpaceOnUse" x="-100" y="-120" width="400" height="240"><text x="59.07" y="0.52" font-size="56.00" textLength="84.43" lengthAdjust="spacingAndGlyphs" fill="#fff" stroke="#000" stroke-width="1.6">cm</text></mask><text x="59.07" y="0.52" font-size="56.00" textLength="84.43" lengthAdjust="spacingAndGlyphs" mask="url(#m_88)">cm</text></g>
<g transform="translate(1096.92 702.32) rotate(25.60)"><text x="0" y="0" font-size="56.00" font-weight="bold" textLength="62.61" lengthAdjust="spacingAndGlyphs">60</text><mask id="m_60" maskUnits="userSpaceOnUse" x="-100" y="-120" width="400" height="240"><text x="61.20" y="0.92" font-size="56.00" textLength="85.02" lengthAdjust="spacingAndGlyphs" fill="#fff" stroke="#000" stroke-width="1.6">cm</text></mask><text x="61.20" y="0.92" font-size="56.00" textLength="85.02" lengthAdjust="spacingAndGlyphs" mask="url(#m_60)">cm</text></g>
<g transform="translate(1435.85 797.21) rotate(-11.20)"><text x="0" y="0" font-size="56.00" font-weight="bold" textLength="90.18" lengthAdjust="spacingAndGlyphs">110</text><mask id="m_110" maskUnits="userSpaceOnUse" x="-100" y="-120" width="400" height="240"><text x="87.21" y="1.08" font-size="56.00" textLength="87.30" lengthAdjust="spacingAndGlyphs" fill="#fff" stroke="#000" stroke-width="1.6">cm</text></mask><text x="87.21" y="1.08" font-size="56.00" textLength="87.30" lengthAdjust="spacingAndGlyphs" mask="url(#m_110)">cm</text></g>
<g transform="translate(780.57 864.88) rotate(-7.10)"><text x="0" y="0" font-size="56.00" font-weight="bold" textLength="59.41" lengthAdjust="spacingAndGlyphs">10</text><mask id="m_10" maskUnits="userSpaceOnUse" x="-100" y="-120" width="400" height="240"><text x="57.18" y="-0.21" font-size="56.00" textLength="86.68" lengthAdjust="spacingAndGlyphs" fill="#fff" stroke="#000" stroke-width="1.6">cm</text></mask><text x="57.18" y="-0.21" font-size="56.00" textLength="86.68" lengthAdjust="spacingAndGlyphs" mask="url(#m_10)">cm</text></g>
<g transform="translate(1345.30 491.99) rotate(-2.00)"><text x="0" y="0" font-size="56.00" font-weight="bold" textLength="59.41" lengthAdjust="spacingAndGlyphs">26</text><mask id="m_26" maskUnits="userSpaceOnUse" x="-100" y="-120" width="400" height="240"><text x="59.63" y="-0.39" font-size="56.00" textLength="87.05" lengthAdjust="spacingAndGlyphs" fill="#fff" stroke="#000" stroke-width="1.6">cm</text></mask><text x="59.63" y="-0.39" font-size="56.00" textLength="87.05" lengthAdjust="spacingAndGlyphs" mask="url(#m_26)">cm</text></g>
<circle cx="1318" cy="480" r="10" fill="none" stroke="#000" stroke-width="4.5"/>
<path d="M1306,497 L1331,463" stroke="#000" stroke-width="4.5"/>
</g>
</svg>
</body></html>
